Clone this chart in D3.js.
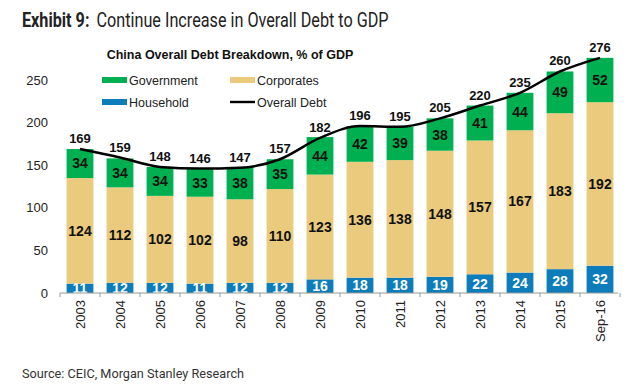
<!DOCTYPE html>
<html>
<head>
<meta charset="utf-8">
<script src="https://cdnjs.cloudflare.com/ajax/libs/d3/7.8.5/d3.min.js"></script>
<style>
  body { margin: 0; background: #fff; }
  svg { display: block; }
</style>
</head>
<body>
<svg id="chart"></svg>
<script>
/*
    DATA
*/
var years = ["2003", "2004", "2005", "2006", "2007", "2008", "2009", "2010", "2011", "2012", "2013", "2014", "2015", "Sep-16"];
var household = [11, 12, 12, 11, 12, 12, 16, 18, 18, 19, 22, 24, 28, 32];
var corporates = [124, 112, 102, 102, 98, 110, 123, 136, 138, 148, 157, 167, 183, 192];
var government = [34, 34, 34, 33, 38, 35, 44, 42, 39, 38, 41, 44, 49, 52];
var overall = [169, 159, 148, 146, 147, 157, 182, 196, 195, 205, 220, 235, 260, 276];
var yTicks = [0, 50, 100, 150, 200, 250];

/*
    LAYOUT
*/
var width = 640, height = 392;
var colors = {gov: "#00b050", corp: "#eacb7e", hh: "#0c7dba"};
var arial = "'Liberation Sans', Arial, sans-serif";

var svg = d3.select("#chart").attr("width", width).attr("height", height);

// headline (condensed look: squeeze horizontally)
var head = svg.append("text").attr("transform", "translate(22,27) scale(0.79,1)")
    .style("font-family", "Roboto, sans-serif").style("font-size", "20.5px").attr("fill", "#222");
head.append("tspan").attr("font-weight", "bold").text("Exhibit 9:");
head.append("tspan").attr("dx", 9).text("Continue Increase in Overall Debt to GDP");

svg.append("text").attr("x", 230).attr("y", 59).attr("text-anchor", "middle")
    .style("font-family", arial).style("font-size", "12.5px").attr("font-weight", "bold")
    .attr("fill", "#111").text("China Overall Debt Breakdown, % of GDP");

svg.append("text").attr("x", 22).attr("y", 378)
    .style("font-family", "Roboto, sans-serif").style("font-size", "12.7px").attr("fill", "#333")
    .text("Source: CEIC, Morgan Stanley Research");

/*
    SCALES
*/
var x = d3.scaleBand().domain(years).range([60, 620]).paddingInner(0.33).paddingOuter(0.165);
var y = d3.scaleLinear().domain([0, 250]).range([293, 80]);

var g = svg.append("g");

// y tick labels (no axis line)
var yAxis = g.append("g").attr("transform", "translate(48,0)")
    .call(d3.axisLeft(y).tickValues(yTicks).tickSize(0).tickPadding(0));
yAxis.select(".domain").remove();
yAxis.selectAll("text").style("font-family", arial).style("font-size", "13px").attr("fill", "#222");

// stacked bars
var rows = years.map(function(d, i) {
  return {year: d, hh: household[i], corp: corporates[i], gov: government[i]};
});
var stack = d3.stack().keys(["hh", "corp", "gov"])(rows);

var layers = g.selectAll(".layer").data(stack).enter().append("g")
    .attr("fill", function(d) { return colors[d.key]; });

layers.selectAll("rect").data(function(d) { return d; }).enter().append("rect")
    .attr("x", function(d) { return x(d.data.year); })
    .attr("width", x.bandwidth())
    .attr("y", function(d) { return y(d[1]); })
    .attr("height", function(d) { return y(d[0]) - y(d[1]); });

// segment labels
stack.forEach(function(layer) {
  g.selectAll(".lbl-" + layer.key).data(layer).enter().append("text")
      .attr("x", function(d) { return x(d.data.year) + x.bandwidth() / 2; })
      .attr("y", function(d) { return (y(d[0]) + y(d[1])) / 2 + 5; })
      .attr("text-anchor", "middle")
      .style("font-family", arial).style("font-size", "14px").attr("font-weight", "bold")
      .attr("fill", layer.key === "hh" ? "#fff" : "#111")
      .text(function(d) { return d[1] - d[0]; });
});

// x axis
var xAxis = g.append("g").attr("transform", "translate(0,293)");
xAxis.append("line").attr("x1", 60).attr("x2", 618).attr("stroke", "#999");
xAxis.selectAll(".tk").data(d3.range(years.length + 1)).enter().append("line")
    .attr("x1", function(i) { return 60 + i * x.step(); })
    .attr("x2", function(i) { return 60 + i * x.step(); })
    .attr("y2", 4).attr("stroke", "#999");
xAxis.selectAll(".xl").data(years).enter().append("text")
    .attr("transform", function(d) { return "translate(" + (x(d) + x.bandwidth() / 2 + 5) + ",7) rotate(-90)"; })
    .attr("text-anchor", "end")
    .style("font-family", arial).style("font-size", "13px").attr("fill", "#222")
    .text(function(d) { return d; });

// overall debt line
var line = d3.line()
    .x(function(d, i) { return x(years[i]) + x.bandwidth() / 2; })
    .y(function(d) { return y(d); })
    .curve(d3.curveMonotoneX);
g.append("path").datum(overall).attr("d", line)
    .attr("fill", "none").attr("stroke", "#000").attr("stroke-width", 2.5);

g.selectAll(".tot").data(overall).enter().append("text")
    .attr("x", function(d, i) { return x(years[i]) + x.bandwidth() / 2; })
    .attr("y", function(d) { return y(d) - 6; })
    .attr("text-anchor", "middle")
    .style("font-family", arial).style("font-size", "13px").attr("font-weight", "bold")
    .attr("fill", "#111").text(function(d) { return d; });

// legend
var legend = [
  {name: "Government", type: "rect", color: colors.gov, x: 102, y: 80},
  {name: "Corporates", type: "rect", color: colors.corp, x: 230, y: 80},
  {name: "Household", type: "rect", color: colors.hh, x: 102, y: 102},
  {name: "Overall Debt", type: "line", color: "#000", x: 230, y: 102}
];
var lg = svg.append("g").selectAll("g").data(legend).enter().append("g")
    .attr("transform", function(d) { return "translate(" + d.x + "," + d.y + ")"; });
lg.append("rect")
    .attr("y", function(d) { return d.type === "rect" ? -3 : -1.2; })
    .attr("width", 25)
    .attr("height", function(d) { return d.type === "rect" ? 6 : 2.4; })
    .attr("fill", function(d) { return d.color; });
lg.append("text").attr("x", 27).attr("y", 5)
    .style("font-family", arial).style("font-size", "12.5px").attr("fill", "#222")
    .text(function(d) { return d.name; });
</script>
</body>
</html>
